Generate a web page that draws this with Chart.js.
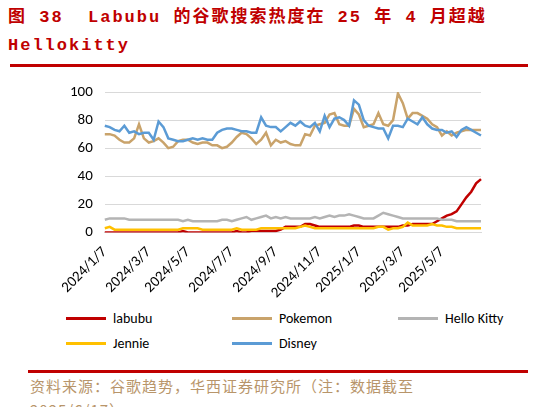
<!DOCTYPE html>
<html><head><meta charset="utf-8">
<script src="https://cdn.jsdelivr.net/npm/chart.js@4"></script>
<style>
body{margin:0;width:533px;height:407px;overflow:hidden;background:#fff;font-family:"Noto Sans CJK SC",sans-serif;position:relative}
#title{position:absolute;left:8px;top:4px;color:#c00000;font-size:17px;line-height:28px;font-weight:bold;font-family:"Liberation Mono","Noto Sans CJK SC";letter-spacing:2px}
.rule{position:absolute;left:28px;width:500px;height:3px;background:#c00000}
#wrap{position:absolute;left:0;top:71px;width:533px;height:234px}
#legend{position:absolute;left:66px;top:310px;width:470px;font-family:Calibri,"Liberation Sans",sans-serif;font-size:14px;color:#000}
.li{position:absolute;display:flex;align-items:center}
.li span{display:inline-block;width:40px;height:3px;margin-right:7px}
#src{position:absolute;left:30px;top:374px;color:#b8956a;font-size:15px;letter-spacing:1px;line-height:24px}
</style></head><body>
<div id="title">图 38&nbsp;&nbsp;Labubu 的谷歌搜索热度在 25 年 4 月超越<br>Hellokitty</div>
<div class="rule" style="top:64px;left:10px;width:518px"></div>
<div id="wrap"><canvas id="c"></canvas></div>
<div id="legend"></div>
<div class="rule" style="top:370px"></div>
<div id="src">资料来源：谷歌趋势，华西证券研究所（注：数据截至<br>2025/6/17）</div>
<script>
'use strict';
// weekly points starting 2024/1/7
const startDate = new Date(2024, 0, 7);
const tickIdx = [0, 9, 17, 26, 35, 44, 52, 61, 69];
const tickLabels = ['2024/1/7','2024/3/7','2024/5/7','2024/7/7','2024/9/7','2024/11/7','2025/1/7','2025/3/7','2025/5/7'];

const labubu = [0,0,0,0,0,0,0,0,0,0, 0,0,0,0,0,0,1,0,0,0, 0,0,0,0,0,0,0,1,0,0,
  1,1,1,1,1,1,2,4,4,4, 4,6,6,5,4,4,4,4,4,4, 4,5,5,4,4,4,4,4,4,4,
  4,5,5,6,6,6,6,6,8,10, 12,13,15,20,25,29,35,38];
const pokemon = [70,70,69,66,64,64,67,77,67,64, 65,67,64,60,61,65,66,66,64,63, 64,64,62,62,60,61,64,68,71,70,
  67,63,66,71,62,66,64,65,63,62, 62,70,69,76,77,78,84,85,77,76, 76,88,84,75,76,77,85,77,76,80,
  99,92,81,85,85,83,81,77,75,69, 72,69,71,72,73,73,73,73];
const helloKitty = [9,10,10,10,10,9,9,9,9,9, 9,9,9,9,9,9,8,9,8,8, 8,8,8,8,9,9,8,9,10,11,
  9,10,11,12,10,11,10,11,10,10, 10,10,10,11,10,11,12,11,12,12, 13,12,11,10,10,10,12,14,13,12,
  11,10,10,10,10,10,10,10,10,9, 9,9,8,8,8,8,8,8];
const jennie = [3,4,2,2,2,2,2,2,2,2, 2,2,2,2,2,2,3,3,3,3, 2,2,2,2,2,2,2,3,2,2,
  2,2,3,3,3,3,3,3,3,3, 4,5,4,3,3,3,3,3,3,3, 3,3,3,3,3,3,4,4,2,3,
  3,4,7,5,5,5,5,6,5,5, 4,4,3,3,3,3,3,3];
const disney = [76,75,73,72,76,71,72,70,71,71, 66,79,75,67,66,65,65,66,67,66, 67,66,66,71,73,74,74,73,72,72,
  71,71,82,76,75,75,72,75,78,76, 79,76,75,78,72,83,75,81,82,80, 76,94,91,80,76,75,74,74,67,76,
  76,75,81,79,77,82,77,74,73,73, 71,72,68,73,75,73,71,69];

const labels = labubu.map((v, i) => {
    const d = new Date(startDate.getTime() + i * 7 * 86400000);
    return d.getFullYear() + '/' + (d.getMonth() + 1) + '/' + d.getDate();
});

const series = [
    {name:'labubu', data:labubu, color:'#c00000'},
    {name:'Pokemon', data:pokemon, color:'#c9a36b'},
    {name:'Hello Kitty', data:helloKitty, color:'#b4b4b4'},
    {name:'Jennie', data:jennie, color:'#ffc000'},
    {name:'Disney', data:disney, color:'#5b9bd5'}
];
// draw order: Disney/Pokemon behind, labubu on top
const order = [4, 1, 2, 3, 0];

const config = {
    type: 'line',
    data: {
        labels: labels,
        datasets: order.map(k => ({
            label: series[k].name,
            data: series[k].data,
            borderColor: series[k].color,
            backgroundColor: series[k].color,
            borderWidth: 2.5,
            pointRadius: 0,
            tension: 0
        }))
    },
    options: {
        animation: false,
        maintainAspectRatio: false,
        layout: {padding: {left: 58, right: 52, top: 12}},
        plugins: {legend: {display: false}, tooltip: {enabled: false}},
        scales: {
            x: {
                grid: {display: false},
                border: {color: '#d9d9d9'},
                ticks: {
                    autoSkip: false, maxRotation: 45, minRotation: 45,
                    font: {size: 15, family: 'Calibri, "Liberation Sans", sans-serif'}, color: '#000',
                    callback: (v, i) => { const j = tickIdx.indexOf(i); return j >= 0 ? tickLabels[j] : ''; }
                }
            },
            y: {
                min: 0, max: 100,
                grid: {color: '#d9d9d9', drawTicks: false},
                border: {display: false},
                ticks: {stepSize: 20, padding: 12, font: {size: 15, family: 'Calibri, "Liberation Sans", sans-serif'}, color: '#000'}
            }
        }
    }
};
new Chart(document.querySelector('#c').getContext('2d'), config);

const legend = document.querySelector('#legend');
const pos = [[0,0],[166,0],[332,0],[0,25],[166,25]];
series.forEach((s, i) => {
    const el = document.createElement('div');
    el.className = 'li';
    el.style.left = pos[i][0] + 'px';
    el.style.top = pos[i][1] + 'px';
    el.innerHTML = '<span style="background:' + s.color + '"></span>' + s.name;
    legend.appendChild(el);
});
</script>
</body></html>
